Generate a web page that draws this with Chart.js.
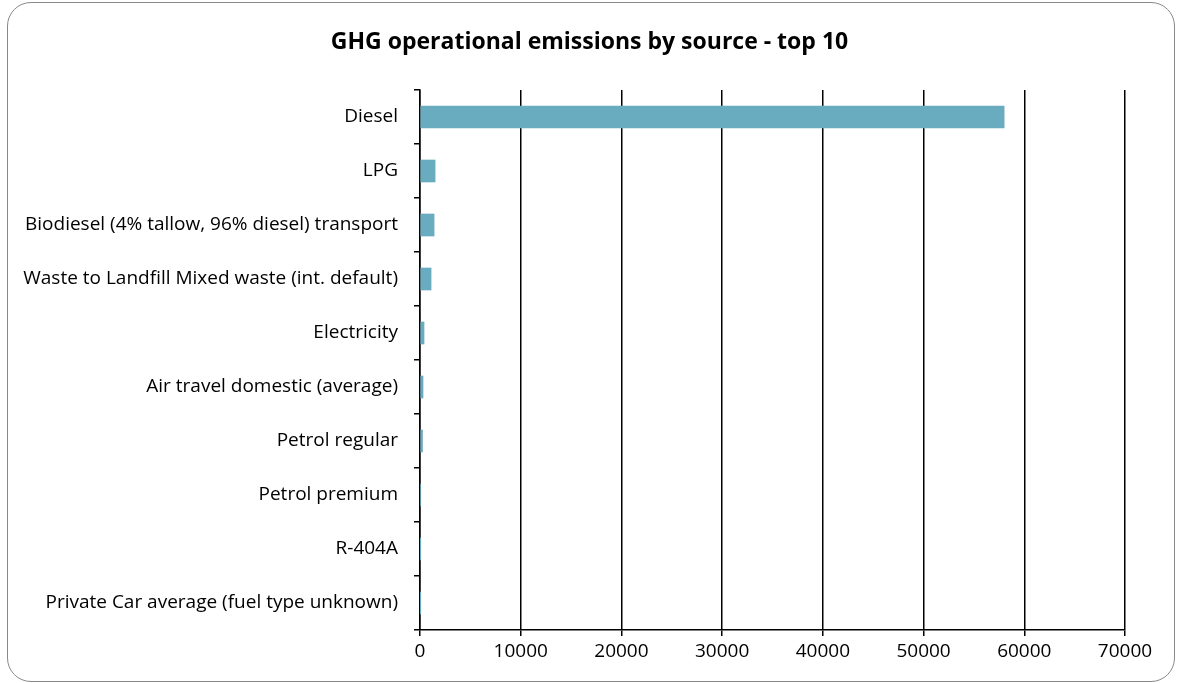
<!DOCTYPE html>
<html>
<head>
<meta charset="utf-8">
<script src="https://cdn.jsdelivr.net/npm/chart.js@4"></script>
<style>
    html, body { margin: 0; padding: 0; background: #fff; }
    #wrap { position: relative; width: 1179px; height: 683px; }
    #frame {
        position: absolute; left: 7px; top: 2px; width: 1166px; height: 678px;
        border: 1.5px solid #888; border-radius: 24px; pointer-events: none;
    }
</style>
</head>
<body>
<div id="wrap">
    <canvas id="chart" width="1179" height="683"></canvas>
    <div id="frame"></div>
</div>
<script>
// 数据：排放源和排放量
const sources = [
    'Diesel',
    'LPG',
    'Biodiesel (4% tallow, 96% diesel) transport',
    'Waste to Landfill Mixed waste (int. default)',
    'Electricity',
    'Air travel domestic (average)',
    'Petrol regular',
    'Petrol premium',
    'R-404A',
    'Private Car average (fuel type unknown)'
];
const emissions = [58000, 1500, 1400, 1100, 400, 300, 250, 60, 20, 5];
const xTicks = [0, 10000, 20000, 30000, 40000, 50000, 60000, 70000];
const chartTitle = 'GHG operational emissions by source - top 10';

const labelFont = { family: 'Open Sans', size: 19 };

// 标题：居中于整个画布
const titlePlugin = {
    id: 'centerTitle',
    afterDraw(chart) {
        const ctx = chart.ctx;
        ctx.save();
        ctx.font = 'bold 23px "Open Sans"';
        ctx.fillStyle = '#000';
        ctx.textAlign = 'center';
        ctx.textBaseline = 'middle';
        ctx.fillText(chartTitle, chart.width / 2, 42);
        ctx.restore();
    }
};

new Chart(document.getElementById('chart').getContext('2d'), {
    type: 'bar',
    data: {
        labels: sources,
        datasets: [{
            label: 'Emissions',
            data: emissions,
            backgroundColor: '#6aacbf',
            barThickness: 22
        }]
    },
    plugins: [titlePlugin],
    options: {
        indexAxis: 'y',
        responsive: false,
        animation: false,
        layout: { padding: { left: 0, right: 54, top: 90, bottom: 0 } },
        plugins: {
            legend: { display: false },
            tooltip: { enabled: false },
            title: { display: false }
        },
        scales: {
            x: {
                min: 0,
                max: 70000,
                afterBuildTicks: (scale) => { scale.ticks = xTicks.map(v => ({ value: v })); },
                afterFit: (scale) => { scale.height = 53; },
                border: { display: true, color: '#000', width: 1.5 },
                grid: { color: '#000', lineWidth: 1.5, tickLength: 6, drawTicks: true },
                ticks: {
                    color: '#000', font: labelFont, padding: 4, maxRotation: 0,
                    callback: (v) => String(v)
                }
            },
            y: {
                afterFit: (scale) => { scale.width = 420; },
                border: { display: true, color: '#000', width: 1.5 },
                grid: { drawOnChartArea: false, drawTicks: true, tickLength: 6, color: '#000', lineWidth: 1.5 },
                ticks: { color: '#000', font: labelFont, padding: 16 }
            }
        }
    }
});
</script>
</body>
</html>
